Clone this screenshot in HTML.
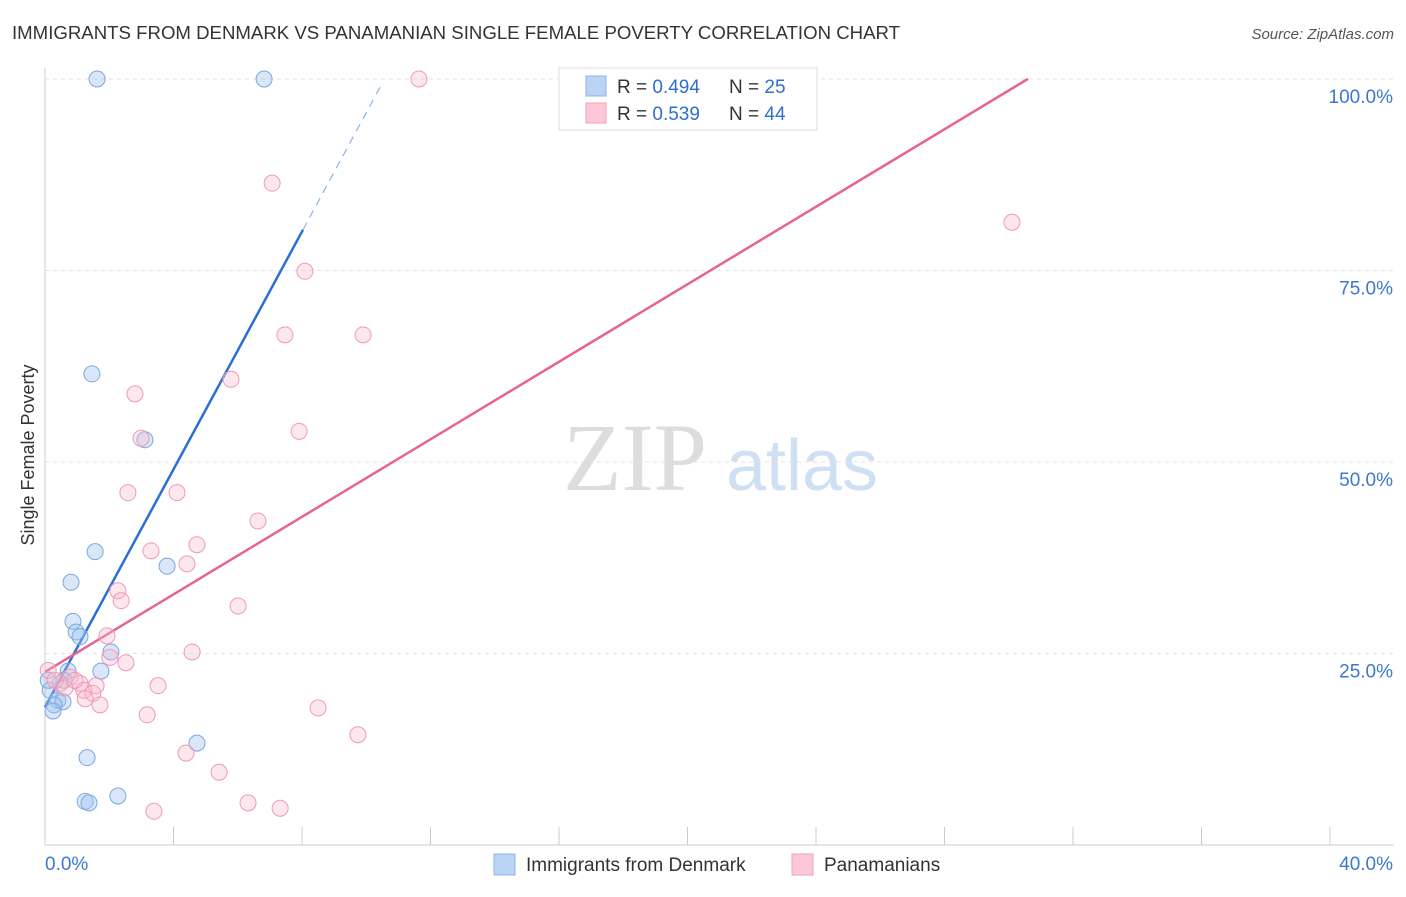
<!DOCTYPE html>
<html><head><meta charset="utf-8"><style>
body{margin:0;background:#fff;font-family:"Liberation Sans",sans-serif}
</style></head><body>
<svg width="1406" height="892" xmlns="http://www.w3.org/2000/svg" font-family="Liberation Sans, sans-serif">
<text x="12" y="39" font-size="18" fill="#333" textLength="888" lengthAdjust="spacingAndGlyphs">IMMIGRANTS FROM DENMARK VS PANAMANIAN SINGLE FEMALE POVERTY CORRELATION CHART</text>
<text x="1394" y="39" font-size="15" fill="#555" font-style="italic" text-anchor="end">Source: ZipAtlas.com</text>
<g>
<text x="635" y="490" font-size="96" fill="#ddd" font-family="Liberation Serif, serif" text-anchor="middle">ZIP</text>
<text x="802" y="490" font-size="72" fill="#cfe0f3" text-anchor="middle">atlas</text>
</g>
<g id="grid"></g>
<g id="axes"></g>
<g id="lines"></g>
<g id="pts"></g>
<text x="34" y="455" font-size="18" fill="#333" text-anchor="middle" transform="rotate(-90 34 455)">Single Female Poverty</text>
<g>
<rect x="559" y="68" width="258" height="62" fill="#fff" stroke="#ddd"/>
<rect x="586" y="76" width="20" height="20" fill="#b9d4f5" stroke="#8ab4e8"/>
<rect x="586" y="103" width="20" height="20" fill="#fcc8d8" stroke="#f0a0b8"/>
<text x="617" y="93" font-size="19" fill="#333">R = <tspan fill="#2f6fd0">0.494</tspan></text>
<text x="729" y="93" font-size="19" fill="#333">N = <tspan fill="#2f6fd0">25</tspan></text>
<text x="617" y="120" font-size="19" fill="#333">R = <tspan fill="#2f6fd0">0.539</tspan></text>
<text x="729" y="120" font-size="19" fill="#333">N = <tspan fill="#2f6fd0">44</tspan></text>
</g>
<g>
<rect x="494" y="854" width="21" height="21" fill="#b9d4f5" stroke="#8ab4e8"/>
<text x="526" y="871" font-size="19" fill="#333">Immigrants from Denmark</text>
<rect x="792" y="854" width="21" height="21" fill="#fcc8d8" stroke="#f0a0b8"/>
<text x="824" y="871" font-size="19" fill="#333">Panamanians</text>
</g>
</svg>
<script>
const blueX=[1.62,6.82,1.46,3.11,1.56,0.81,3.80,0.87,0.97,1.09,2.05,1.74,0.72,0.59,0.40,0.56,0.28,0.25,1.31,4.73,1.25,1.37,2.27,0.16,0.1];
const blueY=[100,100,61.5,52.9,38.3,34.3,36.4,29.2,27.8,27.2,25.2,22.7,22.7,21.5,18.9,18.7,18.3,17.5,11.4,13.3,5.7,5.5,6.4,20.2,21.5];
const pinkX=[11.64,7.07,30.1,8.09,7.47,9.9,5.79,2.80,2.99,7.91,2.58,4.11,6.63,4.73,3.30,4.42,2.27,2.37,6.01,1.93,4.58,2.02,2.52,0.1,0.78,0.47,1.09,1.59,3.52,1.21,1.49,1.25,1.71,8.50,3.18,9.74,4.39,5.42,6.32,7.32,3.39,0.31,0.62,0.93];
const pinkY=[100,86.4,81.3,74.9,66.6,66.6,60.8,58.9,53.1,54.0,46.0,46.0,42.3,39.2,38.4,36.7,33.2,31.9,31.2,27.3,25.2,24.5,23.8,22.8,21.9,21.1,21.1,20.8,20.8,20.2,19.8,19.1,18.3,17.9,17.0,14.4,12.0,9.5,5.5,4.8,4.4,21.5,20.5,21.5];
const yTicks=[25,50,75,100];
const yTickLabels=["25.0%","50.0%","75.0%","100.0%"];
const xTicks=[0,4,8,12,16,20,24,28,32,36,40];
const blueLine=[18.0,7.76,8.03,10.5];
const pinkLine=[22.6,2.53,30.6];
const NS="http://www.w3.org/2000/svg";
const sx=v=>45+v*32.125, sy=v=>845-v*7.66;
function mk(p,t,a){const e=document.createElementNS(NS,t);for(const k in a)e.setAttribute(k,a[k]);p.appendChild(e);return e;}
const grid=document.getElementById('grid'),axes=document.getElementById('axes'),lines=document.getElementById('lines'),pts=document.getElementById('pts');
yTicks.forEach((t,i)=>{const l=mk(grid,'line',{x1:45,x2:1394,y1:sy(t),y2:sy(t),stroke:'#e3e3e3','stroke-dasharray':'4 4'});


const tx=mk(axes,'text',{x:1393,y:sy(t)+24,'font-size':19,fill:'#3b78d0','text-anchor':'end'});tx.textContent=yTickLabels[i];

});
mk(axes,'line',{x1:45,x2:45,y1:68,y2:845,stroke:'#ccc'});
mk(axes,'line',{x1:45,x2:1394,y1:845,y2:845,stroke:'#ccc'});
xTicks.forEach(t=>{const l=mk(axes,'line',{x1:sx(t),x2:sx(t),y1:827,y2:845,stroke:'#ccc'});

});
const xl0=mk(axes,'text',{x:45,y:870,'font-size':19,fill:'#3b78d0'});xl0.textContent='0.0%';


const xl1=mk(axes,'text',{x:1393,y:870,'font-size':19,fill:'#3b78d0','text-anchor':'end'});xl1.textContent='40.0%';


blueX.forEach((x,i)=>{const c=mk(pts,'circle',{cx:sx(x),cy:sy(blueY[i]),r:8,fill:'rgba(160,196,240,0.4)',stroke:'#7aa8e0','stroke-width':1});

});
pinkX.forEach((x,i)=>{const c=mk(pts,'circle',{cx:sx(x),cy:sy(pinkY[i]),r:8,fill:'rgba(250,185,205,0.35)',stroke:'#ee9ab5','stroke-width':1});

});
const bf=x=>blueLine[0]+blueLine[1]*x, pf=x=>pinkLine[0]+pinkLine[1]*x;
const b1=mk(lines,'line',{x1:sx(0),y1:sy(bf(0)),x2:sx(blueLine[2]),y2:sy(bf(blueLine[2])),stroke:'#2a6fd6','stroke-width':2.5});


const b2=mk(lines,'line',{x1:sx(blueLine[2]),y1:sy(bf(blueLine[2])),x2:sx(blueLine[3]),y2:sy(bf(blueLine[3])),stroke:'#8ab4e8','stroke-width':1.2,'stroke-dasharray':'8 6'});


const p1=mk(lines,'line',{x1:sx(0),y1:sy(pf(0)),x2:sx(pinkLine[2]),y2:sy(pf(pinkLine[2])),stroke:'#e8638e','stroke-width':2.5});


</script>
</body></html>
